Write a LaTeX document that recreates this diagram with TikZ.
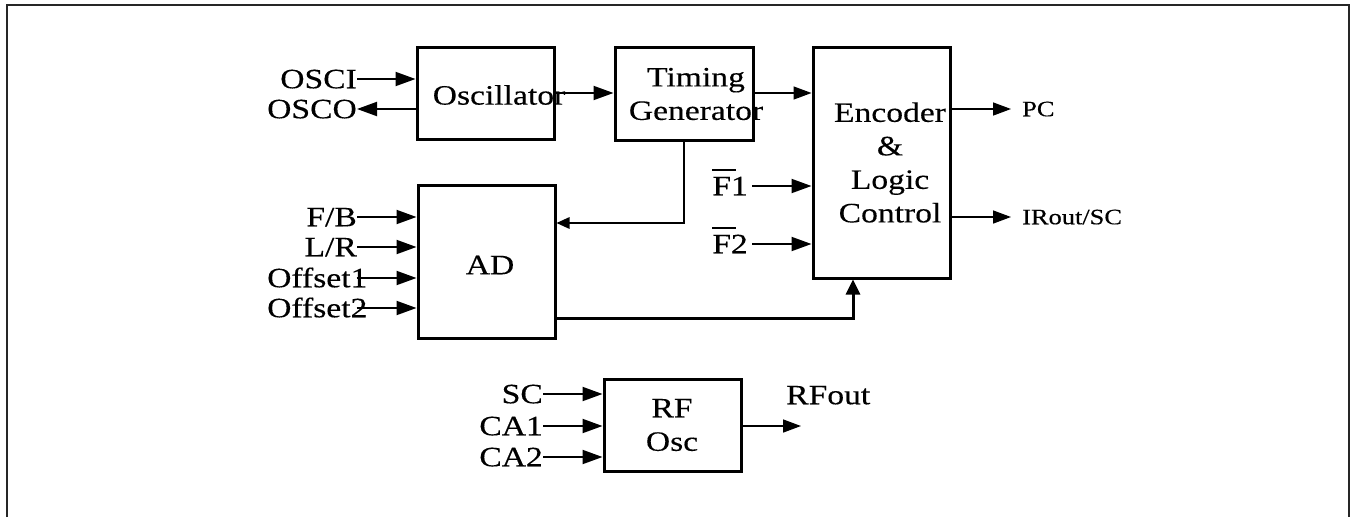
\documentclass[tikz,border=0pt]{standalone}
\usepackage{fontspec}
\setmainfont[FakeStretch=1.2,FakeBold=0.3]{Liberation Serif}
\usetikzlibrary{arrows.meta}
\newcommand{\barF}{\leavevmode\setbox0\hbox{F}\rlap{\rule[24.5pt]{1.25\wd0}{1.3pt}}F}
\begin{document}
\begin{tikzpicture}[x=1pt,y=-1pt,
  blk/.style={draw, line width=3pt, inner sep=0pt},
  lbl/.style={font=\fontsize{28}{33.5}\selectfont, inner sep=0pt, align=center},
  io/.style={font=\fontsize{28}{33.5}\selectfont, inner sep=0pt, text height=18.5pt, text depth=0pt},
  sio/.style={font=\fontsize{22}{26}\selectfont, inner sep=0pt, text height=14.5pt, text depth=0pt},
  arr/.style={line width=2pt, -{Triangle[length=20pt,width=14pt]}},
  tarr/.style={line width=1.5pt, -{Triangle[length=18pt,width=13pt]}},
  sarr/.style={line width=1.5pt, -{Triangle[length=13pt,width=11.5pt]}},
  karr/.style={line width=3pt, -{Triangle[length=15pt,width=14pt]}}]
\useasboundingbox (0,0) rectangle (1351,517);
\draw[line width=1.8pt, black!85] (7,517) -- (7,5) -- (1349,5) -- (1349,517);
% blocks
\node[blk, minimum width=137pt, minimum height=92pt] (osc) at (485.5,93) {};
\node[blk, minimum width=138pt, minimum height=93pt] (tg) at (684,93.5) {};
\node[blk, minimum width=137pt, minimum height=231pt] (enc) at (881.5,162.5) {};
\node[blk, minimum width=137pt, minimum height=153pt] (ad) at (486.5,261.5) {};
\node[blk, minimum width=137pt, minimum height=92pt] (rf) at (672.5,425) {};
% block texts
\node[lbl] (oscT) at (499,95) {Oscillator};
\node[lbl] (tgT) at (696,94) {Timing\\Generator};
\node[lbl] (encT) at (890,162.5) {Encoder\\\&\\Logic\\Control};
\node[lbl] (adT) at (490,265) {AD};
\node[lbl] (rfT) at (672,425) {RF\\Osc};
% signal labels
\node[io, anchor=east] (osci) at (357,79) {OSCI};
\node[io, anchor=east] (osco) at (357,109) {OSCO};
\node[io, anchor=east] (fb) at (357,217) {F/B};
\node[io, anchor=east] (lr) at (357,247) {L/R};
\node[io, anchor=west] (off1) at (267,278) {Offset1};
\node[io, anchor=west] (off2) at (267,308) {Offset2};
\node[io, anchor=east] (f1) at (748,186) {\barF1};
\node[io, anchor=east] (f2) at (748,244) {\barF2};
\node[sio, anchor=west] (pc) at (1022,109) {PC};
\node[sio, anchor=west] (ir) at (1022,217) {IRout/SC};
\node[io, anchor=east] (sc) at (543,394) {SC};
\node[io, anchor=east] (ca1) at (543,426) {CA1};
\node[io, anchor=east] (ca2) at (543,457) {CA2};
\node[io, anchor=west] (rfo) at (786,395) {RFout};
\coordinate (rfend) at (801,426);
% connectors
\draw[arr] (osci.east) -- (osci.east -| osc.west);
\draw[arr] (osco.east -| osc.west) -- (osco.east);
\draw[arr] (osc.east) -- (tg.west |- osc.east);
\draw[tarr] (tg.east |- osc.east) -- (osc.east -| enc.west);
\draw[sarr] (tg.south) |- ([yshift=38.5pt]ad.east);
\draw[arr] (fb.east) -- (fb.east -| ad.west);
\draw[arr] (lr.east) -- (lr.east -| ad.west);
\draw[arr] ([xshift=-11pt]off1.east) -- (off1.east -| ad.west);
\draw[arr] ([xshift=-11pt]off2.east) -- (off2.east -| ad.west);
\draw[arr] ([xshift=4pt]f1.east) -- (f1.east -| enc.west);
\draw[arr] ([xshift=4pt]f2.east) -- (f2.east -| enc.west);
\draw[tarr] (pc.west -| enc.east) -- ([xshift=-11pt]pc.west);
\draw[tarr] (ir.west -| enc.east) -- ([xshift=-11pt]ir.west);
\draw[karr] ([yshift=-56.5pt]ad.east) -| ([xshift=-28.5pt]enc.south);
\draw[arr] (sc.east) -- (sc.east -| rf.west);
\draw[arr] (ca1.east) -- (ca1.east -| rf.west);
\draw[arr] (ca2.east) -- (ca2.east -| rf.west);
\draw[tarr] (rfend -| rf.east) -- (rfend);
\end{tikzpicture}
\end{document}
